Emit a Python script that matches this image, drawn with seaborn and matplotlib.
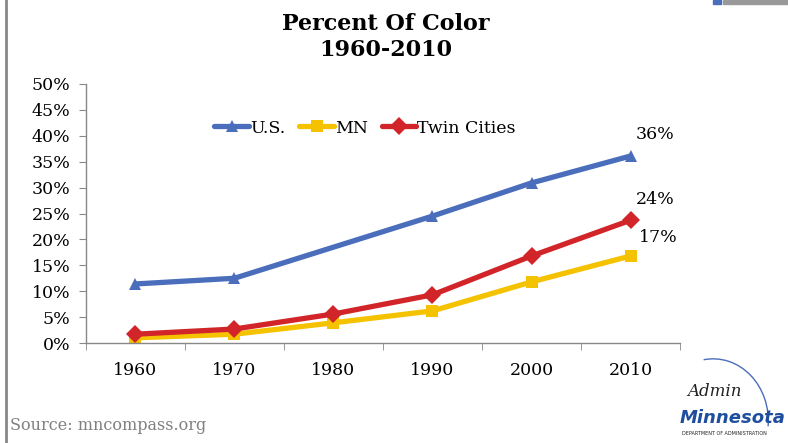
import numpy as np
import pandas as pd
import matplotlib.pyplot as plt
import seaborn as sns
from matplotlib.patches import Arc

# Data (percent of population that is people of color)
years = ["1960", "1970", "1980", "1990", "2000", "2010"]
us = [11.4, 12.5, np.nan, 24.5, 30.9, 36.1]
mn = [1.0, 1.7, 3.9, 6.2, 11.8, 16.8]
twin_cities = [1.7, 2.7, 5.6, 9.3, 16.8, 23.7]
end_labels = ["36%", "17%", "24%"]

series_names = ["U.S.", "MN", "Twin Cities"]
colors = {"U.S.": "#4A6EBB", "MN": "#F5C200", "Twin Cities": "#D2252A"}
markers = {"U.S.": "^", "MN": "s", "Twin Cities": "D"}

frames = []
for name, vals in zip(series_names, [us, mn, twin_cities]):
    frames.append(pd.DataFrame({"pos": range(len(years)), "value": vals, "series": name}))
df = pd.concat(frames).dropna()

sns.set_style("white")
plt.rcParams["font.family"] = ["DejaVu Serif"]
plt.rcParams["text.color"] = "black"
plt.rcParams["xtick.color"] = "black"
plt.rcParams["ytick.color"] = "black"

fig = plt.figure(figsize=(7.88, 4.43), dpi=100)
ax = fig.add_axes([0.109, 0.2257, 0.754, 0.5847])

sns.lineplot(
    data=df, x="pos", y="value", hue="series", style="series",
    hue_order=series_names, style_order=series_names,
    palette=colors, markers=markers, dashes=False,
    linewidth=3.8, markersize=9, markeredgewidth=0, ax=ax,
)

ax.set_xlim(-0.5, 5.5)
ax.set_ylim(0, 50)
ax.set_yticks(range(0, 51, 5))
ax.set_yticklabels([f"{v}%" for v in range(0, 51, 5)], fontsize=12.5)
ax.set_xticks(range(len(years)))
ax.set_xticklabels(years, fontsize=12.5)
ax.set_xticks(np.arange(-0.5, 6, 1), minor=True)
ax.tick_params(axis="x", which="major", length=0, pad=14)
ax.tick_params(axis="x", which="minor", length=5, color="#888888", direction="out", bottom=True)
ax.tick_params(axis="y", length=5, color="#888888", direction="out", left=True, pad=6)
ax.set_xlabel("")
ax.set_ylabel("")
for side in ["top", "right"]:
    ax.spines[side].set_visible(False)
for side in ["left", "bottom"]:
    ax.spines[side].set_color("#888888")
    ax.spines[side].set_linewidth(1)

# end-of-line labels
last = len(years) - 1
ax.annotate(end_labels[0], (last, us[last]), xytext=(4, 12), textcoords="offset points", fontsize=12.5)
ax.annotate(end_labels[2], (last, twin_cities[last]), xytext=(4, 12), textcoords="offset points", fontsize=12.5)
ax.annotate(end_labels[1], (last, mn[last]), xytext=(6, 10), textcoords="offset points", fontsize=12.5)

leg = ax.legend(
    loc="center", bbox_to_anchor=(0.47, 0.83), ncol=3, frameon=False,
    fontsize=12.5, handlelength=2.0, handletextpad=0.05, columnspacing=0.8,
)

fig.text(0.49, 0.945, "Percent Of Color", ha="center", va="center",
         fontsize=16, fontweight="bold", family="DejaVu Serif")
fig.text(0.49, 0.888, "1960-2010", ha="center", va="center",
         fontsize=16, fontweight="bold", family="DejaVu Serif")

fig.text(0.013, 0.03, "Source: mncompass.org", fontsize=11.5, color="#808080")

# left frame line and top-right decoration
fig.add_artist(plt.Line2D([0.008, 0.008], [0, 1], color="#888888", lw=2, transform=fig.transFigure))
fig.add_artist(plt.Rectangle((0.905, 0.99), 0.01, 0.01, color="#4A6EBB", transform=fig.transFigure))
fig.add_artist(plt.Rectangle((0.918, 0.99), 0.082, 0.01, color="#999999", transform=fig.transFigure))

# logo
fig.text(0.872, 0.105, "Admin", fontsize=12, style="italic", family="DejaVu Serif", color="#222222")
fig.text(0.862, 0.045, "Minnesota", fontsize=13, fontweight="bold", style="italic",
         family="DejaVu Sans", color="#1F4E9E")
fig.text(0.866, 0.018, "DEPARTMENT OF ADMINISTRATION", fontsize=3.5, family="DejaVu Sans", color="#222222")
fig.add_artist(Arc((0.905, 0.05), 0.14, 0.28, theta1=-10, theta2=95, color="#4A6EBB", lw=1,
                   transform=fig.transFigure))

fig.savefig("out.png", dpi=100)
